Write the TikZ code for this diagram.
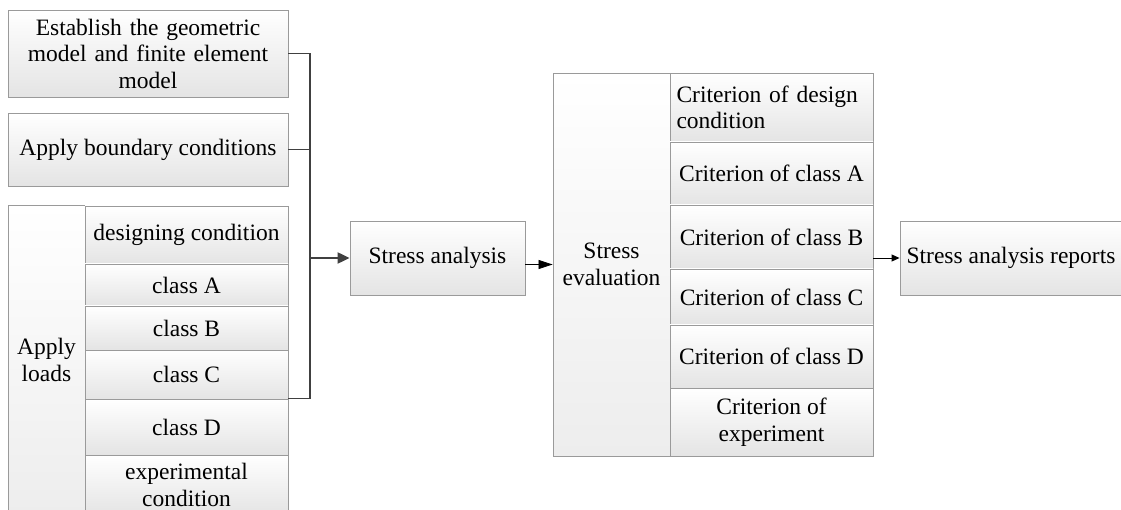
\documentclass[tikz,border=0pt]{standalone}
\usepackage{fontspec}
\setmainfont{Liberation Serif}
\usetikzlibrary{arrows.meta,shadows}
\definecolor{boxline}{HTML}{9A9A9A}
\definecolor{boxbot}{HTML}{E4E4E4}
\definecolor{tallbot}{HTML}{EDEDED}
\definecolor{conn}{HTML}{404040}
\begin{document}
\begin{tikzpicture}[x=1pt,y=-1pt,
  box/.style={draw=boxline, line width=0.9pt, top color=white, bottom color=boxbot,
    inner sep=2pt, align=center, font=\fontsize{23.5}{26.5}\selectfont,
    drop shadow={shadow xshift=1.3pt, shadow yshift=-1.3pt, fill=black, opacity=0.15}},
  tallbox/.style={box, bottom color=tallbot},
  wire/.style={draw=conn, line width=1.3pt},
  thickarrow/.style={draw=conn, line width=2.2pt, -{Triangle[length=12pt,width=11pt]}},
  thinarrow/.style={draw=black, line width=0.7pt, -{Triangle[length=14pt,width=9pt]}},
  smallarrow/.style={draw=black, line width=0.9pt, -{Triangle[length=8pt,width=7pt]}}
]
\useasboundingbox (0,0) rectangle (1121,510);
\fill[white] (0,0) rectangle (1121,510);

% left column
\node[box, minimum width=280, minimum height=87, text width=270] (b1) at (148,53.5)
  {Establish the geometric\\model and finite element\\model};
\node[box, minimum width=280, minimum height=73] (b2) at (148,149.5) {Apply boundary conditions};

\node[tallbox, minimum width=77, minimum height=310] (loads) at (46.5,360) {Apply\\loads};
\node[box, minimum width=203, minimum height=58] (dc) at (186.5,235) {designing condition};
\node[box, minimum width=203, minimum height=42] (cA) at (186.5,285) {class A};
\node[box, minimum width=203, minimum height=44] (cB) at (186.5,328) {class B};
\node[box, minimum width=203, minimum height=49] (cC) at (186.5,374.5) {class C};
\node[box, minimum width=203, minimum height=56] (cD) at (186.5,427) {class D};
\node[box, minimum width=203, minimum height=60] (ex) at (186.5,485) {experimental\\condition};

% middle
\node[box, minimum width=175, minimum height=74] (sa) at (437.5,258) {Stress analysis};
\node[tallbox, minimum width=117, minimum height=383] (se) at (611.5,264.5) {Stress\\evaluation};

\node[box, minimum width=203, minimum height=69, text width=190, align=left] (k0) at (771.5,107.5)
  {Criterion of design\\condition};
\node[box, minimum width=203, minimum height=63] (k1) at (771.5,173.5) {Criterion of class A};
\node[box, minimum width=203, minimum height=64] (k2) at (771.5,237) {Criterion of class B};
\node[box, minimum width=203, minimum height=56] (k3) at (771.5,297) {Criterion of class C};
\node[box, minimum width=203, minimum height=63] (k4) at (771.5,356.5) {Criterion of class D};
\node[box, minimum width=203, minimum height=68] (k5) at (771.5,422) {Criterion of\\experiment};

\node[box, minimum width=222, minimum height=74] (rep) at (1011,258) {Stress analysis reports};

% connectors
\coordinate (j) at (310,258);
\draw[wire] (b1.east) -| (j);
\draw[wire] (b2.east) -| (j);
\draw[wire] (cD.north east) -| (j);
\draw[thickarrow] (j) -- (sa.west);
\draw[thinarrow] (sa.east |- se.west) -- (se.west);
\draw[smallarrow] (k2.east |- rep.west) -- (rep.west);
\end{tikzpicture}
\end{document}
